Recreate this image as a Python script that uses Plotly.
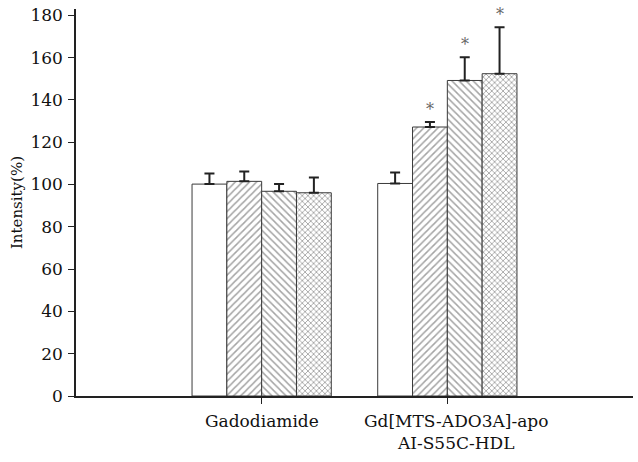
import plotly.graph_objects as go

categories = ["Gadodiamide", "Gd[MTS-ADO3A]-apo<br>AI-S55C-HDL"]
series_names = ["Control", "Dose 1", "Dose 2", "Dose 3"]
values = [
    [100.2, 100.5],
    [101.5, 127.2],
    [96.8, 149.2],
    [96.1, 152.4],
]
errors = [
    [5.0, 5.2],
    [4.7, 2.4],
    [3.4, 11.0],
    [7.2, 22.0],
]
significant = [
    [False, False],
    [False, True],
    [False, True],
    [False, True],
]
y_ticks = [0, 20, 40, 60, 80, 100, 120, 140, 160, 180]

patterns = ["", "/", "\\", "x"]
pattern_sizes = [5, 5, 5, 4]
pattern_solidity = [0.3, 0.3, 0.3, 0.4]
label_xshift = [0, 9]
FONT = "Palatino Linotype, Book Antiqua, Palatino, DejaVu Serif, serif"

fig = go.Figure()
for i, name in enumerate(series_names):
    fig.add_trace(go.Bar(
        name=name,
        x=categories,
        y=values[i],
        marker=dict(
            color="white",
            line=dict(color="#3a3a3a", width=1),
            pattern=dict(shape=patterns[i], fgcolor="#4a4a4a", bgcolor="white",
                         size=pattern_sizes[i], solidity=pattern_solidity[i]),
        ),
        error_y=dict(type="data", symmetric=False, array=errors[i],
                     arrayminus=[0] * len(errors[i]),
                     color="#222222", thickness=2, width=5),
        showlegend=False,
    ))

n = len(series_names)
bar_w = 0.75 / n
for i in range(n):
    for j in range(len(categories)):
        if significant[i][j]:
            fig.add_annotation(
                x=j - 0.375 + (i + 0.5) * bar_w,
                y=values[i][j] + errors[i][j],
                text="*", showarrow=False, yanchor="bottom", yshift=1,
                font=dict(family=FONT, size=16, color="#666666"),
            )

# category labels (as real text under each tick)
for j, cat in enumerate(categories):
    fig.add_annotation(
        x=cat, y=0, yref="paper", yanchor="top", xanchor="center",
        text=cat, showarrow=False, yshift=-13, xshift=label_xshift[j],
        font=dict(family=FONT, size=17, color="#111111"),
    )

fig.update_layout(
    width=638, height=462,
    margin=dict(l=76, r=5, t=9, b=66),
    paper_bgcolor="white", plot_bgcolor="white",
    barmode="group", bargap=0.25, bargroupgap=0,
    font=dict(family=FONT, color="#111111"),
)
fig.update_xaxes(
    type="category", range=[-1, 2], automargin=False,
    showline=True, linecolor="#222222", linewidth=1.5,
    ticks="outside", ticklen=6, tickcolor="#222222",
    showgrid=False, showticklabels=False,
)
fig.update_yaxes(
    range=[0, 183], tickvals=y_ticks, automargin=False,
    showline=True, linecolor="#222222", linewidth=1.5,
    ticks="outside", ticklen=6, tickcolor="#222222",
    showgrid=False, zeroline=False,
    tickfont=dict(size=17, family=FONT),
    ticklabelstandoff=2, ticklabeloverflow="allow",
    title=dict(text="Intensity(%)", font=dict(size=15, family=FONT), standoff=4),
)

fig.write_html("out.html",
               config={"displayModeBar": False},
               post_script="document.body.style.margin='0';document.body.style.overflow='hidden';")
